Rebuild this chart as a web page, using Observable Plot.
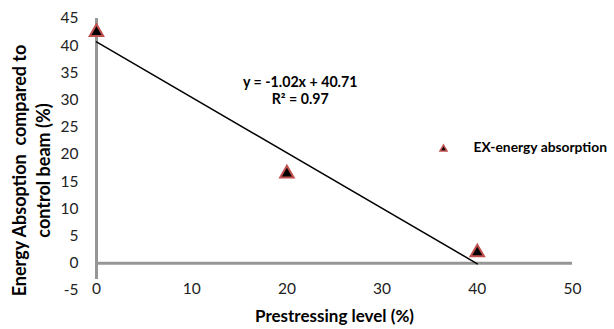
<!DOCTYPE html>
<html><head><meta charset="utf-8">
<script src="https://cdn.jsdelivr.net/npm/d3@7"></script>
<script src="https://cdn.jsdelivr.net/npm/@observablehq/plot@0.6"></script>
<style>
body{margin:0;background:#fff;}
#chart svg{font-family:Lato,"Open Sans",sans-serif;overflow:hidden;}
</style>
</head><body><div id="chart"></div>
<script>
const prestress = [0, 20, 40];
const energy = [42.5, 16.5, 2.0];
const slope = -1.02, intercept = 40.71;
const trendX = [0, 40];
const xTicks = [0, 10, 20, 30, 40, 50];
const yTicks = [-5, 0, 5, 10, 15, 20, 25, 30, 35, 40, 45];
const seriesName = "EX-energy absorption";
const eqLines = ["y = -1.02x + 40.71", "R² = 0.97"];
const xTitle = "Prestressing level (%)";
const yTitle = ["Energy Absoption  compared to", "control beam (%)"];

const points = prestress.map((x, i) => ({x, y: energy[i]}));
const trend = trendX.map(x => ({x, y: slope * x + intercept}));

const chart = Plot.plot({
  width: 614, height: 329,
  marginLeft: 96, marginRight: 42, marginTop: 18, marginBottom: 39,
  x: {domain: [0, 50], axis: null},
  y: {domain: [-5, 45], axis: null},
  marks: [
    Plot.ruleY([0], {x1: 0, x2: 50, stroke: "#969696", strokeWidth: 3}),
    Plot.ruleX([0], {y1: -3, y2: 45, stroke: "#969696", strokeWidth: 3}),
    Plot.line(trend, {x: "x", y: "y", stroke: "black", strokeWidth: 1.5}),
    Plot.dot(points, {x: "x", y: "y", symbol: "triangle", r: 5, fill: "black", stroke: "#c0504d", strokeWidth: 2}),
    Plot.text(yTicks, {x: 0, y: d => d, text: d => String(d), textAnchor: "end", dx: -18, fontSize: 15.5, fill: "#222"}),
    Plot.text(xTicks, {x: d => d, y: -5, text: d => String(d), dy: -1, fontSize: 15.5, fill: "#222"}),
    Plot.text([eqLines.join("\n")], {x: 21.4, y: 31.8, fontSize: 14.2, fontWeight: "bold", lineHeight: 1.15, fill: "black"}),
    Plot.dot([seriesName], {x: 36.45, y: 21.0, symbol: "triangle", r: 2.6, fill: "black", stroke: "#c0504d", strokeWidth: 1.5}),
    Plot.text([seriesName], {x: 39.6, y: 21.2, textAnchor: "start", fontSize: 13.8, fontWeight: "bold", fill: "black"}),
    Plot.text([xTitle], {frameAnchor: "bottom", dy: 31, fontSize: 17, fontWeight: "bold", fill: "black"}),
    Plot.text([yTitle.join("\n")], {frameAnchor: "left", textAnchor: "middle", dx: -66, dy: 16, rotate: -90, fontSize: 18, fontWeight: "bold", lineHeight: 1.3, fill: "black"})
  ]
});
document.getElementById("chart").append(chart);
</script>
</body></html>
